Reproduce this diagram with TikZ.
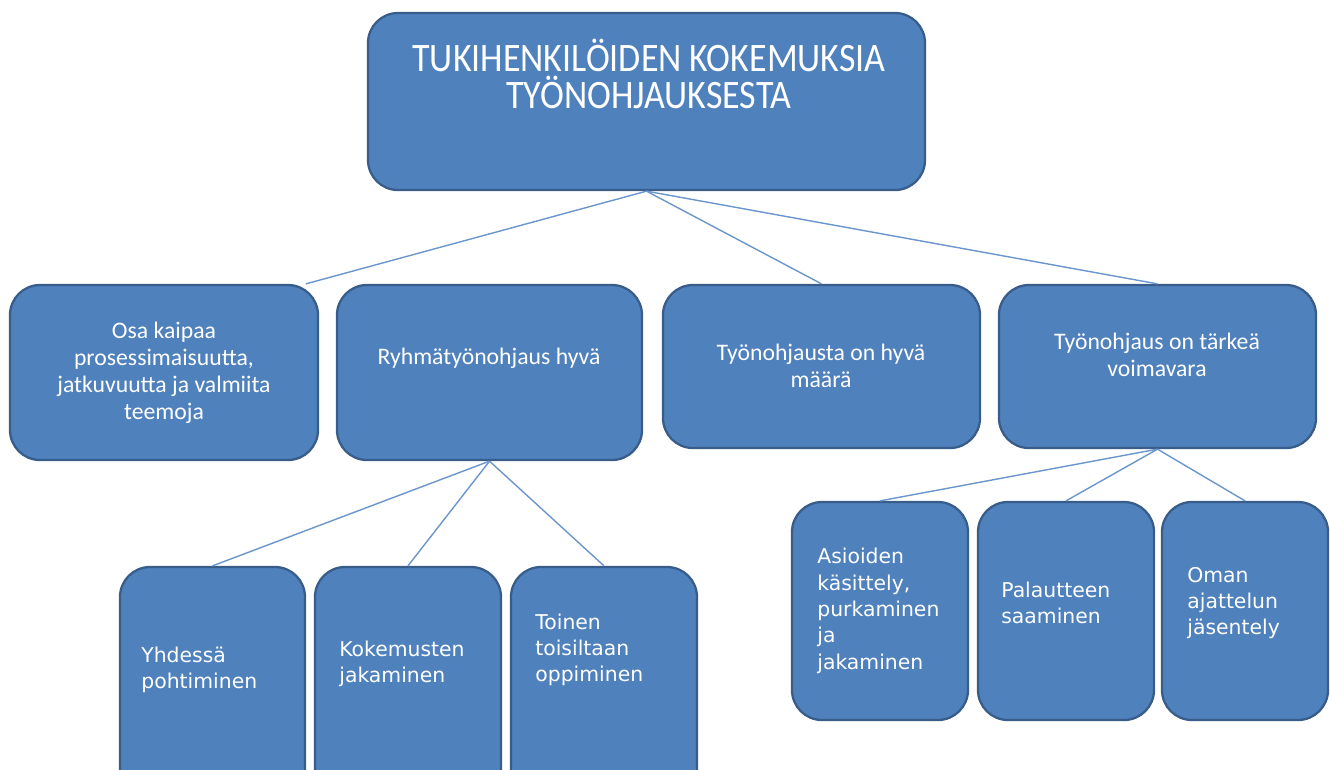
\documentclass[tikz,border=0pt]{standalone}
\usepackage{fontspec}
\newfontfamily\titlefont[FakeStretch=0.89]{Carlito}
\newfontfamily\boxfont{Carlito}
\newfontfamily\smallfont{DejaVu Sans}
\definecolor{boxblue}{HTML}{4F81BD}
\definecolor{boxedge}{HTML}{385D8A}
\definecolor{linkblue}{HTML}{6A96CC}
\tikzset{
    box/.style 2 args={draw=boxedge, line width=1.3pt, fill=boxblue, rounded corners=0.6cm,
        minimum width=#1*0.02cm, minimum height=#2*0.02cm, inner sep=0pt},
    link/.style={draw=linkblue, line width=0.8pt},
    toptext/.style={text=white, font=\titlefont\fontsize{23}{21.5}\selectfont, align=center, inner sep=0pt},
    midtext/.style={text=white, font=\boxfont\fontsize{13.5}{15.3}\selectfont, align=center, inner sep=0pt},
    subtext/.style={text=white, font=\smallfont\fontsize{11.6}{15}\selectfont, align=left, anchor=west, inner sep=0pt}
}
\begin{document}
\begin{tikzpicture}[x=0.02cm, y=-0.02cm]
    \useasboundingbox (0,0) rectangle (1330,769);
    \clip (0,0) rectangle (1330,769);
    \node[box={557}{177}] (root) at (646.5,101.5) {};
    \node[box={308}{175}] (osa) at (164,372.5) {};
    \node[box={305}{175}] (ryhma) at (489.5,372.5) {};
    \node[box={317}{163}] (maara) at (821.5,366.5) {};
    \node[box={317}{163}] (voima) at (1157.5,366.5) {};
    \node[box={185}{233}] (yhdessa) at (212.5,683.5) {};
    \node[box={186}{233}] (kokemus) at (408,683.5) {};
    \node[box={186}{233}] (toinen) at (604,683.5) {};
    \node[box={176}{218}] (asiat) at (880,611) {};
    \node[box={176}{218}] (palaute) at (1066,611) {};
    \node[box={166}{218}] (oman) at (1245,611) {};
    \node[toptext] (rootT) at (649,74) {TUKIHENKILÖIDEN KOKEMUKSIA\\TYÖNOHJAUKSESTA};
    \node[midtext] (osaT) at (164,373) {Osa kaipaa\\prosessimaisuutta,\\jatkuvuutta ja valmiita\\teemoja};
    \node[midtext] (ryhmaT) at (489,358) {Ryhmätyönohjaus hyvä};
    \node[midtext] (maaraT) at (821,366) {Työnohjausta on hyvä\\määrä};
    \node[midtext] (voimaT) at (1157,355) {Työnohjaus on tärkeä\\voimavara};
    \node[subtext] (yhdessaT) at (141,670) {Yhdessä\\pohtiminen};
    \node[subtext] (kokemusT) at (339,664) {Kokemusten\\jakaminen};
    \node[subtext] (toinenT) at (535,650) {Toinen\\toisiltaan\\oppiminen};
    \node[subtext] (asiatT) at (817,611) {Asioiden\\käsittely,\\purkaminen\\ja\\jakaminen};
    \node[subtext] (palauteT) at (1001,603) {Palautteen\\saaminen};
    \node[subtext] (omanT) at (1187,603) {Oman\\ajattelun\\jäsentely};
    \draw[link] (root.south) -- (osa.32);
    \draw[link] (root.south) -- (maara.north);
    \draw[link] (root.south) -- (voima.north);
    \draw[link] (ryhma.south) -- (yhdessa.north);
    \draw[link] (ryhma.south) -- (kokemus.north);
    \draw[link] (ryhma.south) -- (toinen.north);
    \draw[link] (voima.south) -- (asiat.north);
    \draw[link] (voima.south) -- (palaute.north);
    \draw[link] (voima.south) -- (oman.north);
\end{tikzpicture}
\end{document}
